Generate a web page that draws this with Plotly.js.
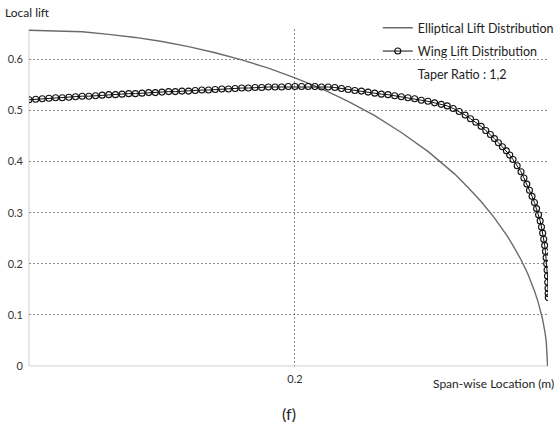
<!DOCTYPE html>
<html>
<head>
<meta charset="utf-8">
<script src="https://cdn.plot.ly/plotly-3.0.1.min.js"></script>
<style>
  html, body { margin: 0; padding: 0; background: #fff; }
  #chart { width: 557px; height: 430px; }
</style>
</head>
<body>
<div id="chart"></div>
<script>
// Span-wise stations (m) and local lift of the ideal elliptical distribution
const ellipticX = [0, 0.02, 0.04, 0.06, 0.08, 0.10, 0.12, 0.14, 0.16, 0.18, 0.20, 0.22, 0.24, 0.26,
  0.28, 0.30, 0.32, 0.33, 0.34, 0.35, 0.36, 0.365, 0.37, 0.375, 0.38, 0.383, 0.386, 0.388, 0.389, 0.39];
const ellipticLift = [0.657, 0.656, 0.654, 0.649, 0.643, 0.635, 0.625, 0.613, 0.599, 0.583, 0.564, 0.543,
  0.518, 0.490, 0.457, 0.420, 0.376, 0.350, 0.322, 0.290, 0.253, 0.231, 0.208, 0.181, 0.148, 0.124,
  0.094, 0.067, 0.047, 0];

// Span-wise stations (m) and computed local lift of the tapered wing (taper ratio 1,2)
const wingX = [0.000, 0.005, 0.010, 0.015, 0.020, 0.025, 0.030, 0.035, 0.040, 0.045, 0.050, 0.055,
  0.060, 0.065, 0.070, 0.075, 0.080, 0.085, 0.090, 0.095, 0.100, 0.105, 0.110, 0.115, 0.120, 0.125,
  0.130, 0.135, 0.140, 0.145, 0.150, 0.155, 0.160, 0.165, 0.170, 0.175, 0.180, 0.185, 0.190, 0.195,
  0.200, 0.205, 0.210, 0.215, 0.220, 0.225, 0.230, 0.235, 0.240, 0.245, 0.250, 0.255, 0.260, 0.265,
  0.270, 0.275, 0.280, 0.285, 0.290, 0.295, 0.300, 0.305, 0.310, 0.3145, 0.319, 0.3235, 0.328, 0.332,
  0.336, 0.340, 0.3435, 0.347, 0.350, 0.353, 0.356, 0.359, 0.3615, 0.3640, 0.3671, 0.3700, 0.3722,
  0.3744, 0.3764, 0.3783, 0.3801, 0.3817, 0.3832, 0.3844, 0.3854, 0.3863, 0.3871, 0.3878, 0.3884,
  0.3889, 0.3893, 0.3896, 0.3899, 0.3901, 0.3903, 0.3904, 0.3905];
const wingLift = [0.521, 0.522, 0.523, 0.524, 0.525, 0.525, 0.526, 0.527, 0.528, 0.528, 0.529, 0.530,
  0.531, 0.531, 0.532, 0.533, 0.533, 0.534, 0.535, 0.535, 0.536, 0.537, 0.537, 0.538, 0.538, 0.539,
  0.540, 0.540, 0.541, 0.542, 0.542, 0.543, 0.544, 0.544, 0.545, 0.545, 0.546, 0.546, 0.546, 0.547,
  0.547, 0.547, 0.547, 0.547, 0.546, 0.546, 0.545, 0.543, 0.541, 0.539, 0.538, 0.536, 0.534, 0.532,
  0.531, 0.529, 0.527, 0.525, 0.523, 0.520, 0.518, 0.515, 0.512, 0.509, 0.504, 0.498, 0.491, 0.484,
  0.477, 0.469, 0.461, 0.453, 0.445, 0.437, 0.429, 0.421, 0.413, 0.404, 0.392, 0.380, 0.368,
  0.356, 0.344, 0.332, 0.320, 0.308, 0.296, 0.284, 0.272, 0.260, 0.248, 0.236, 0.224,
  0.212, 0.200, 0.188, 0.176, 0.164, 0.152, 0.142, 0.134];

const yTicks = [0, 0.1, 0.2, 0.3, 0.4, 0.5, 0.6];
const yTickText = ['0', '0.1', '0.2', '0.3', '0.4', '0.5', '0.6'];
const xTicks = [0.2];
const xTickText = ['0.2'];

const FONT = 'Lato, "Open Sans", sans-serif';

const traces = [
  {
    x: ellipticX, y: ellipticLift, type: 'scatter', mode: 'lines',
    name: 'Elliptical Lift Distribution', legendgroup: 'a',
    line: { color: '#6b6b6b', width: 1.4 }
  },
  {
    x: wingX, y: wingLift, type: 'scatter', mode: 'lines+markers',
    name: 'Wing Lift Distribution', legendgroup: 'b',
    line: { color: '#111', width: 1 },
    marker: { symbol: 'circle-open', size: 6, color: '#111', line: { width: 1.1, color: '#111' } }
  },
  {
    // legend-only note on the wing geometry
    x: [null], y: [null], type: 'scatter', mode: 'lines',
    name: 'Taper Ratio : 1,2', legendgroup: 'c',
    line: { color: 'rgba(0,0,0,0)', width: 0 }
  }
];

const layout = {
  width: 557, height: 430,
  margin: { l: 29, r: 9, t: 29, b: 64, autoexpand: false },
  paper_bgcolor: '#fff', plot_bgcolor: '#fff',
  font: { family: FONT, size: 11, color: '#333' },
  showlegend: true,
  legend: {
    x: 0.672, y: 1.047, xanchor: 'left', yanchor: 'top',
    font: { family: FONT, size: 12.5, color: '#222' },
    bgcolor: 'rgba(0,0,0,0)', tracegroupgap: 4, itemwidth: 30
  },
  xaxis: {
    range: [0, 0.3903], tickvals: xTicks, ticktext: xTickText,
    showgrid: true, gridcolor: '#8a8a8a', griddash: '2px,2px', gridwidth: 1,
    showline: false, zeroline: false, ticks: '', ticklabelstandoff: 5,
    tickfont: { family: FONT, size: 11, color: '#333' }
  },
  yaxis: {
    range: [0, 0.6595], tickvals: yTicks, ticktext: yTickText,
    showgrid: true, gridcolor: '#8a8a8a', griddash: '2px,2px', gridwidth: 1,
    showline: false, zeroline: false, ticks: '', ticklabelstandoff: 5,
    tickfont: { family: FONT, size: 11, color: '#333' }
  },
  shapes: [
    // solid axis lines along the bottom and left edges
    { type: 'line', xref: 'paper', yref: 'paper', x0: 0, x1: 1, y0: 0, y1: 0, line: { color: '#cfcfcf', width: 1 }, layer: 'below' },
    { type: 'line', xref: 'paper', yref: 'paper', x0: 0, x1: 0, y0: 0, y1: 1, line: { color: '#cfcfcf', width: 1 }, layer: 'below' }
  ],
  annotations: [
    { text: 'Local lift', xref: 'paper', yref: 'paper', x: -0.05, y: 1.022, xanchor: 'left', yanchor: 'bottom',
      showarrow: false, font: { family: FONT, size: 12, color: '#222' } },
    { text: 'Span-wise Location (m)', xref: 'paper', yref: 'paper', x: 1.015, y: -0.025, xanchor: 'right', yanchor: 'top',
      showarrow: false, font: { family: FONT, size: 12, color: '#222' } },
    { text: '(f)', xref: 'paper', yref: 'paper', x: 0.5, y: -0.107, xanchor: 'center', yanchor: 'top',
      showarrow: false, font: { family: FONT, size: 16, color: '#222' } }
  ]
};

Plotly.newPlot('chart', traces, layout, { displayModeBar: false, staticPlot: true });
</script>
</body>
</html>
